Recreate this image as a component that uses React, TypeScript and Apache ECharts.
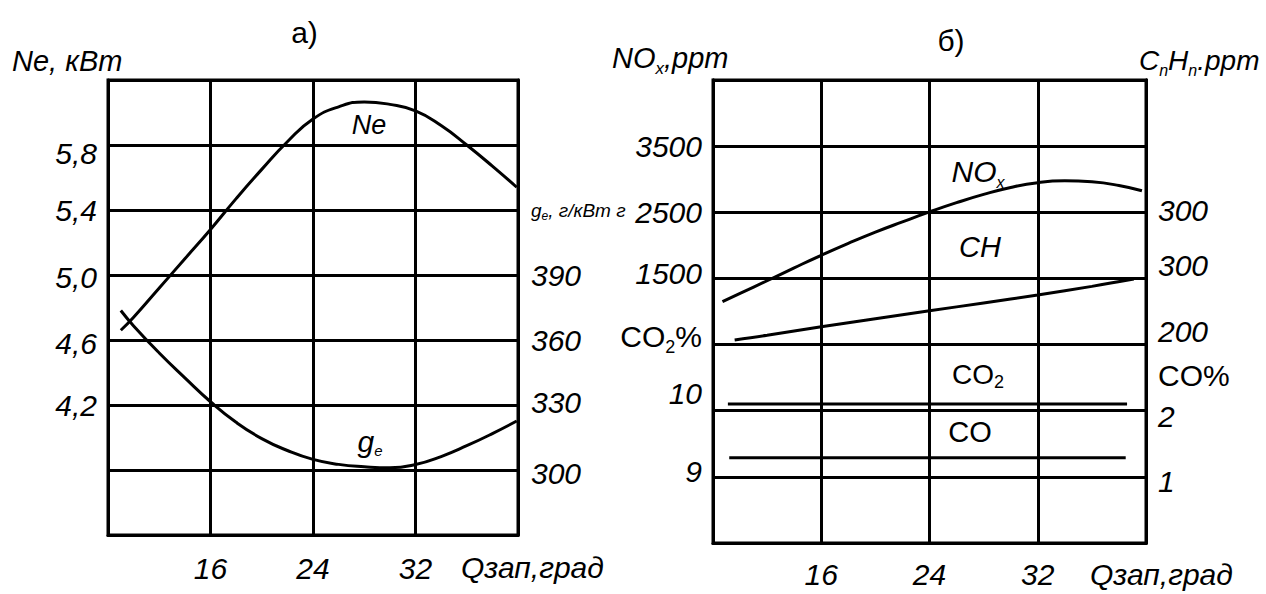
import React, { useEffect, useRef } from "react";
import * as echarts from "echarts";

// ---------- data ----------
const xTicks = [16, 24, 32];

// Chart а): Ne (kW) and ge (g/kWh) vs ignition angle
const neX = [9, 10, 12, 14, 16, 18, 20, 22, 24, 26, 28, 30, 32, 34, 36, 38, 39.9];
const neY = [4.66, 4.74, 4.92, 5.1, 5.28, 5.47, 5.65, 5.82, 5.96, 6.035, 6.065, 6.05, 6.01, 5.92, 5.8, 5.67, 5.54];
const geX = [9, 10, 12, 14, 16, 18, 20, 22, 24, 26, 28, 30, 32, 34, 36, 38, 39.9];
const geY = [373.6, 366.5, 354, 342.5, 331.5, 322, 314.5, 309, 304.9, 302.6, 301.5, 301, 302.5, 306.2, 311.2, 316.8, 322.6];
const neTicks = [4.2, 4.6, 5.0, 5.4, 5.8];
const geTicks = [300, 330, 360, 390, 420];

// Chart б): emissions
const noxX = [8.7, 10, 12, 14, 16, 18, 20, 22, 24, 26, 28, 30, 32, 34, 36, 38, 39.7];
const noxY = [1150, 1275, 1465, 1660, 1850, 2030, 2200, 2355, 2505, 2645, 2770, 2875, 2948, 2975, 2960, 2905, 2825];
const chX = [9.6, 12, 16, 20, 24, 28, 32, 36, 39.1];
const chY = [207, 214, 227, 239, 251, 263, 275, 288, 299];
const co2X = [9.1, 38.6];
const co2Y = [10.1, 10.1];
const coX = [9.2, 38.5];
const coY = [1.29, 1.29];

const noxTicks = [1500, 2500, 3500];
const co2TickValues = [9, 10, 11];
const co2TickLabels = ["9", "10", "CO₂%"];
const chTickValues = [200, 300, 400];
const chTickLabels = ["200", "300", "300"];
const coTickValues = [1, 2, 2.5];
const coTickLabels = ["1", "2", "CO%"];

// ---------- style ----------
const FONT = "'Liberation Sans', Arial, Helvetica, sans-serif";
const BLACK = "#000";

const t = (size: number, italic = true) => ({
  fontFamily: FONT,
  fontSize: size,
  fontStyle: italic ? "italic" : "normal",
  color: BLACK,
});

const shifted = (size: number, dy: number, italic = true) => ({
  ...t(size, italic),
  padding: dy < 0 ? [0, 0, -2 * dy, 0] : [2 * dy, 0, 0, 0],
});

const axisLineStyle = { show: true, onZero: false, lineStyle: { color: BLACK, width: 3 } };
const splitStyle = { show: true, lineStyle: { color: BLACK, width: 3 } };

const fmtComma = (v: number) => v.toFixed(1).replace(".", ",");
const near = (a: number, b: number) => Math.abs(a - b) < 1e-6;

export default function App() {
  const ref = useRef<HTMLDivElement>(null);

  useEffect(() => {
    if (!ref.current) return;
    const chart = echarts.init(ref.current, undefined, { renderer: "svg" });

    const line = (xs: number[], ys: number[], xi: number, yi: number, smooth: number | boolean) => ({
      type: "line",
      xAxisIndex: xi,
      yAxisIndex: yi,
      data: xs.map((x, i) => [x, ys[i]]),
      smooth,
      symbol: "none",
      lineStyle: { color: BLACK, width: 3 },
      silent: true,
    });

    const xAxisBase = (gridIndex: number, margin: number) => ({
      gridIndex,
      type: "value",
      min: 8,
      max: 40,
      interval: 8,
      axisLine: axisLineStyle,
      axisTick: { show: false },
      splitLine: splitStyle,
      axisLabel: { customValues: xTicks, margin, ...t(30) },
    });

    const option: any = {
      animation: false,
      backgroundColor: "#fff",
      grid: [
        { left: 108, top: 80, width: 410, height: 455, show: true, borderColor: BLACK, borderWidth: 3, containLabel: false, outerBoundsMode: "none" },
        { left: 713, top: 80, width: 433, height: 463, show: true, borderColor: BLACK, borderWidth: 3, containLabel: false, outerBoundsMode: "none" },
      ],
      xAxis: [xAxisBase(0, 18), xAxisBase(1, 16)],
      yAxis: [
        // 0: Ne, left of chart а)
        {
          gridIndex: 0,
          type: "value",
          position: "left",
          min: 3.4,
          max: 6.2,
          axisLine: axisLineStyle,
          axisTick: { show: false },
          splitLine: { show: false },
          axisLabel: {
            customValues: neTicks,
            margin: 11,
            ...t(30),
            formatter: (v: number) => {
              const s = fmtComma(v);
              if (near(v, 5.8)) return `{d8|${s}}`;
              if (near(v, 4.6)) return `{d3|${s}}`;
              if (near(v, 5.0)) return `{d2|${s}}`;
              return s;
            },
            rich: { d8: shifted(30, 8), d3: shifted(30, 3), d2: shifted(30, 2) },
          },
        },
        // 1: ge, right of chart а) (also draws horizontal grid)
        {
          gridIndex: 0,
          type: "value",
          position: "right",
          min: 270,
          max: 480,
          interval: 30,
          axisLine: axisLineStyle,
          axisTick: { show: false },
          splitLine: splitStyle,
          axisLabel: {
            customValues: geTicks,
            margin: 13,
            ...t(30),
            formatter: (v: number) => {
              if (v === 420) return "{g|g}{ge|e}{g|, г/кВт г}";
              if (v === 330) return `{u3|${v}}`;
              if (v === 300) return `{d3|${v}}`;
              return String(v);
            },
            rich: {
              g: t(19),
              ge: { ...t(12), verticalAlign: "bottom", padding: [0, 0, -2, 0] },
              u3: shifted(30, -3),
              d3: shifted(30, 3),
            },
          },
        },
        // 2: NOx, left of chart б)
        {
          gridIndex: 1,
          type: "value",
          position: "left",
          min: -2500,
          max: 4500,
          axisLine: axisLineStyle,
          axisTick: { show: false },
          splitLine: { show: false },
          axisLabel: {
            customValues: noxTicks,
            margin: 11,
            ...t(30),
            formatter: (v: number) => (v === 1500 ? `{u5|${v}}` : String(v)),
            rich: { u5: shifted(30, -5) },
          },
        },
        // 3: CO2 %, left of chart б) (draws horizontal grid)
        {
          gridIndex: 1,
          type: "value",
          position: "left",
          min: 8,
          max: 15,
          interval: 1,
          axisLine: axisLineStyle,
          axisTick: { show: false },
          splitLine: splitStyle,
          axisLabel: {
            customValues: co2TickValues,
            margin: 11,
            ...t(30),
            formatter: (v: number) => {
              const lbl = co2TickLabels[co2TickValues.indexOf(v)] ?? String(v);
              if (v === 11) return "{c|CO}{cs|2}{c|%}";
              if (v === 10) return `{u17|${lbl}}`;
              return `{u5|${lbl}}`;
            },
            rich: {
              c: shifted(30, -8, false),
              cs: { ...t(18, false), verticalAlign: "bottom", padding: [0, 0, 12, 0] },
              u17: shifted(30, -17),
              u5: shifted(30, -5),
            },
          },
        },
        // 4: CnHn ppm, right of chart б)
        {
          gridIndex: 1,
          type: "value",
          position: "right",
          min: -100,
          max: 600,
          axisLine: axisLineStyle,
          axisTick: { show: false },
          splitLine: { show: false },
          axisLabel: {
            customValues: chTickValues,
            margin: 12,
            ...t(30),
            formatter: (v: number) => {
              const lbl = chTickLabels[chTickValues.indexOf(v)] ?? String(v);
              if (v === 400) return `{u2|${lbl}}`;
              return `{u13|${lbl}}`;
            },
            rich: { u2: shifted(30, -2), u13: shifted(30, -13) },
          },
        },
        // 5: CO %, right of chart б)
        {
          gridIndex: 1,
          type: "value",
          position: "right",
          min: 0,
          max: 7,
          axisLine: axisLineStyle,
          axisTick: { show: false },
          splitLine: { show: false },
          axisLabel: {
            customValues: coTickValues,
            margin: 12,
            ...t(30),
            formatter: (v: number) => {
              const lbl = coTickLabels[coTickValues.indexOf(v)] ?? String(v);
              if (v === 2.5) return `{h|${lbl}}`;
              if (v === 2) return `{d6|${lbl}}`;
              return `{d5|${lbl}}`;
            },
            rich: { h: shifted(30, -2, false), d6: shifted(30, 6), d5: shifted(30, 5) },
          },
        },
      ],
      series: [
        line(neX, neY, 0, 0, 0.5),
        line(geX, geY, 0, 1, 0.5),
        line(noxX, noxY, 1, 2, 0.5),
        line(chX, chY, 1, 4, 0.4),
        line(co2X, co2Y, 1, 3, false),
        line(coX, coY, 1, 5, false),
      ],
      graphic: [
        { type: "text", x: 304.5, y: 32.5, style: { text: "а)", font: `30px ${FONT}`, fill: BLACK, align: "center", verticalAlign: "middle" } },
        { type: "text", x: 951, y: 40, style: { text: "б)", font: `30px ${FONT}`, fill: BLACK, align: "center", verticalAlign: "middle" } },
        { type: "text", x: 12, y: 61, style: { text: "Ne, кВт", font: `italic 29px ${FONT}`, fill: BLACK, align: "left", verticalAlign: "middle" } },
        {
          type: "text", x: 612, y: 58,
          style: {
            text: "{a|NO}{s|x}{a|,ppm}", align: "left", verticalAlign: "middle",
            rich: { a: t(29), s: { ...t(17), verticalAlign: "bottom", padding: [0, 0, -4, 0] } },
          },
        },
        {
          type: "text", x: 1139, y: 60,
          style: {
            text: "{a|C}{s|n}{a|H}{s|n}{a|.ppm}", align: "left", verticalAlign: "middle",
            rich: { a: t(28), s: { ...t(16), verticalAlign: "bottom", padding: [0, 0, -4, 0] } },
          },
        },
        { type: "text", x: 461, y: 567, style: { text: "Qзап,град", font: `italic 30px ${FONT}`, fill: BLACK, align: "left", verticalAlign: "middle" } },
        { type: "text", x: 1090, y: 574, style: { text: "Qзап,град", font: `italic 30px ${FONT}`, fill: BLACK, align: "left", verticalAlign: "middle" } },
        { type: "text", x: 369, y: 125, style: { text: "Ne", font: `italic 27px ${FONT}`, fill: BLACK, align: "center", verticalAlign: "middle" } },
        {
          type: "text", x: 370, y: 441,
          style: {
            text: "{a|g}{s|e}", align: "center", verticalAlign: "middle",
            rich: { a: t(30), s: { ...t(15), verticalAlign: "bottom", padding: [0, 0, -2, 0] } },
          },
        },
        {
          type: "text", x: 978, y: 171,
          style: {
            text: "{a|NO}{s|x}", align: "center", verticalAlign: "middle",
            rich: { a: t(30), s: { ...t(16), verticalAlign: "bottom", padding: [0, 0, -4, 0] } },
          },
        },
        { type: "text", x: 980, y: 247, style: { text: "CH", font: `italic 29px ${FONT}`, fill: BLACK, align: "center", verticalAlign: "middle" } },
        {
          type: "text", x: 978, y: 374,
          style: {
            text: "{a|CO}{s|2}", align: "center", verticalAlign: "middle",
            rich: { a: t(28, false), s: { ...t(18, false), verticalAlign: "bottom", padding: [0, 0, -3, 0] } },
          },
        },
        { type: "text", x: 970, y: 432, style: { text: "CO", font: `29px ${FONT}`, fill: BLACK, align: "center", verticalAlign: "middle" } },
      ],
    };

    chart.setOption(option);
    return () => chart.dispose();
  }, []);

  return (
    <div
      ref={ref}
      style={{ position: "fixed", left: 0, top: 0, width: 1266, height: 594, background: "#fff" }}
    />
  );
}
